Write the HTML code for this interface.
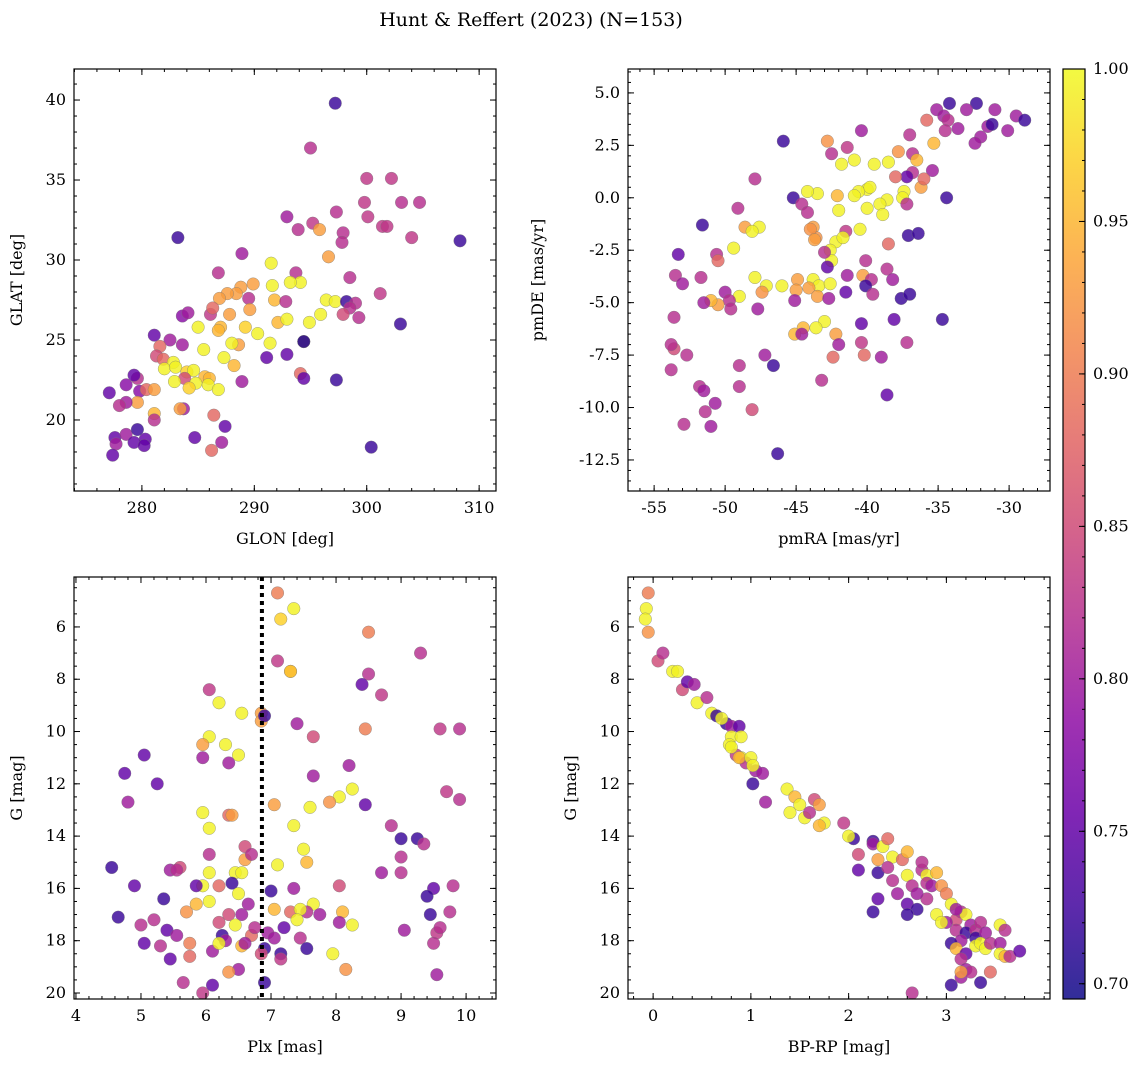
<!DOCTYPE html>
<html><head><meta charset="utf-8">
<style>
html,body{margin:0;padding:0;background:#fff;}
svg{display:block;font-family:"DejaVu Serif","Liberation Serif",serif;}
</style></head>
<body>
<svg id="chart" width="1148" height="1068" viewBox="0 0 1148 1068" xmlns="http://www.w3.org/2000/svg">
<text x="531" y="26" text-anchor="middle" font-size="19" fill="#000">Hunt &amp; Reffert (2023) (N=153)</text>
</svg>
<script>
// ---- Panel 1: GLON / GLAT ----
const p1_glon=[297.2,295.0,300,302.2,299.8,304.7,303.1,297.3,292.9,300.1,301.4,301.8,295.2,295.8,293.9,297.9,297.8,304.0,308.3,283.2,288.9,296.6,291.5,286.8,293.7,298.5,289.9,294.1,293.2,291.6,288.8,288.4,301.2,287.6,289.5,296.4,297.2,298.2,291.8,286.9,292.8,299.0,298.5,297.9,299.3,295.9,303.0,294.9,292.1,292.9,287.8,283.6,284.1,286.1,286.3,289.6,285.0,287.0,289.2,286.8,290.3,281.1,282.5,291.4,288.6,294.4,294.4,288.0,281.6,283.6,285.5,281.3,292.9,291.1,287.3,288.2,281.9,282.8,282.0,283.0,284.0,284.6,294.1,283.8,285.6,297.3,294.4,288.9,286.0,282.9,284.8,285.9,284.2,286.8,277.1,278.6,279.6,279.3,279.8,280.4,281.1,279.6,278.6,278.0,283.7,283.4,281.1,281.1,286.4,287.4,284.7,287.1,277.6,278.6,280.3,279.6,279.3,280.2,277.7,286.2,300.4,277.4];
const p1_glat=[39.8,37.0,35.1,35.1,33.6,33.6,33.6,33.0,32.7,32.7,32.1,32.1,32.3,31.9,31.9,31.7,31.1,31.4,31.2,31.4,30.4,30.2,29.8,29.2,29.2,28.9,28.5,28.6,28.6,28.4,28.3,27.9,27.9,27.9,27.6,27.5,27.4,27.4,27.5,27.6,27.4,27.3,27.0,26.6,26.4,26.6,26.0,26.1,26.1,26.3,26.6,26.5,26.7,26.6,27.0,26.9,25.8,25.8,25.8,25.6,25.4,25.3,25.0,24.8,24.7,24.9,24.9,24.8,24.6,24.7,24.4,24.0,24.1,23.9,23.9,23.4,23.8,23.6,23.2,23.3,23.0,23.1,22.9,22.6,22.7,22.5,22.6,22.4,22.6,22.4,22.3,22.2,22.0,21.9,21.7,22.2,22.6,22.8,21.8,21.9,21.9,21.1,21.1,20.9,20.7,20.7,20.4,20.0,20.3,19.6,18.9,18.6,18.9,19.1,18.8,19.4,18.6,18.4,18.5,18.1,18.3,17.8];
const p1_prob=[.72,.82,.83,.83,.83,.82,.82,.82,.80,.83,.83,.83,.83,.93,.82,.82,.82,.83,.72,.72,.80,.93,.995,.82,.82,.82,.93,.995,.995,.995,.93,.93,.83,.93,.82,.995,.995,.72,.95,.93,.82,.82,.82,.85,.82,.995,.72,.995,.95,.995,.93,.78,.80,.83,.88,.93,.995,.95,.97,.95,.995,.75,.80,.995,.93,.88,.70,.995,.88,.80,.995,.85,.75,.75,.995,.95,.88,.995,.995,.995,.97,.995,.88,.85,.95,.72,.75,.80,.95,.995,.995,.995,.97,.995,.75,.78,.82,.75,.78,.88,.93,.93,.80,.82,.80,.93,.95,.82,.88,.75,.75,.80,.75,.80,.75,.72,.75,.75,.80,.88,.72,.75];
// ---- Panel 2: pmRA / pmDE ----
const p2_pmra=[-34.2,-32.3,-31.0,-29.5,-28.9,-33.0,-35.1,-34.6,-34.3,-34.5,-33.6,-31.5,-31.2,-30.1,-32.0,-32.4,-35.8,-35.3,-37.0,-36.8,-37.8,-38.5,-39.5,-36.8,-36.5,-35.4,-37.2,-38.0,-36.2,-37.4,-36.0,-37.5,-34.4,-37.2,-38.6,-40.0,-40.6,-39.8,-40.9,-39.1,-40.0,-42.1,-43.5,-42.0,-38.9,-40.5,-41.5,-38.5,-37.1,-36.4,-40.9,-41.8,-41.4,-42.5,-42.8,-40.4,-44.2,-45.2,-44.6,-44.2,-43.8,-43.6,-44.0,-45.9,-42.2,-41.7,-42.6,-42.5,-43.0,-40.1,-38.6,-38.2,-42.8,-40.3,-41.4,-39.7,-43.8,-44.9,-43.4,-42.6,-44.1,-45.0,-46.0,-47.1,-47.4,-47.9,-49.0,-50.0,-49.7,-51.7,-50.5,-49.6,-45.1,-43.5,-42.7,-41.5,-40.1,-39.6,-37.6,-37.0,-38.1,-34.7,-37.2,-40.4,-42.2,-43.0,-43.6,-44.5,-45.1,-44.6,-47.7,-42.0,-42.4,-40.4,-40.2,-39.0,-46.6,-47.2,-49.0,-48.1,-49.0,-43.2,-38.6,-46.3,-51.4,-50.7,-51.8,-51.5,-52.9,-51.0,-53.8,-53.6,-53.8,-52.7,-53.6,-53.5,-53.0,-53.3,-51.6,-50.6,-49.1,-47.9,-48.6,-49.4,-47.6,-48.1,-50.5,-51.0,-51.5,-43.7];
const p2_pmde=[4.5,4.5,4.2,3.9,3.7,4.2,4.2,3.9,3.7,3.2,3.3,3.4,3.5,3.2,2.9,2.6,3.7,2.6,3.0,2.1,2.2,1.7,1.6,1.2,1.8,1.3,1.0,1.0,0.5,0.3,0.9,0.0,0.0,-0.3,-0.1,0.4,0.3,0.5,0.1,-0.3,-0.5,0.1,0.2,-0.6,-0.8,-1.5,-1.6,-2.2,-1.8,-1.7,1.8,1.6,2.4,2.1,2.7,3.2,0.3,0.0,-0.3,-0.7,-1.4,-1.9,-1.5,2.7,-2.1,-1.9,-2.5,-3.0,-2.6,-3.0,-3.4,-3.9,-3.3,-3.7,-3.7,-3.9,-3.9,-3.9,-4.2,-4.1,-4.3,-4.4,-4.2,-4.2,-4.5,-3.8,-4.7,-4.5,-4.9,-3.8,-5.1,-5.3,-4.9,-4.7,-4.8,-4.5,-4.2,-4.6,-4.8,-4.6,-5.8,-5.8,-6.9,-6.0,-6.5,-5.9,-6.2,-6.2,-6.5,-6.5,-5.3,-7.0,-7.6,-6.9,-7.5,-7.6,-8.0,-7.5,-8.0,-10.1,-9.0,-8.7,-9.4,-12.2,-10.2,-9.8,-9.0,-9.2,-10.8,-10.9,-8.2,-7.2,-7.0,-7.5,-5.7,-3.7,-4.1,-2.7,-1.3,-2.7,-0.5,0.9,-1.4,-2.4,-1.4,-1.6,-3.0,-4.9,-5.0,-2.0];
const p2_prob=[.72,.72,.80,.80,.72,.80,.80,.80,.82,.82,.80,.80,.72,.80,.80,.80,.88,.95,.82,.82,.92,.995,.995,.82,.95,.80,.75,.88,.93,.995,.88,.995,.72,.82,.995,.995,.995,.995,.995,.995,.995,.95,.995,.995,.995,.995,.83,.88,.72,.72,.995,.995,.83,.82,.92,.80,.995,.72,.82,.82,.93,.92,.92,.72,.995,.995,.995,.995,.82,.82,.82,.80,.75,.93,.80,.82,.995,.93,.995,.995,.93,.93,.995,.995,.92,.995,.995,.80,.82,.82,.93,.82,.80,.93,.80,.75,.72,.82,.72,.72,.75,.72,.82,.75,.93,.995,.995,.95,.95,.80,.80,.80,.88,.83,.88,.80,.72,.80,.82,.85,.82,.82,.75,.72,.82,.80,.82,.80,.82,.80,.82,.85,.82,.82,.82,.82,.80,.75,.72,.82,.82,.82,.93,.995,.995,.995,.88,.95,.80,.93];
// ---- Panel 3: Plx / G ----
const p3_plx=[7.1,7.15,7.35,8.5,9.3,7.1,7.3,7.3,8.5,8.4,6.05,8.7,6.2,6.55,6.85,6.85,6.9,7.4,8.45,9.6,9.9,6.05,5.95,6.3,7.65,5.95,6.5,5.05,6.35,8.2,4.75,7.65,5.25,8.25,8.05,9.7,9.9,4.8,7.05,7.9,8.45,7.6,5.95,6.35,6.4,8.85,7.35,6.05,9.0,9.25,9.35,6.6,7.5,7.1,7.55,6.6,6.05,6.7,9.0,8.7,9.0,4.55,5.6,5.45,6.45,6.55,6.05,5.95,6.2,6.4,7.0,7.35,8.05,9.5,9.8,9.4,4.9,6.5,5.85,5.35,6.05,5.7,5.85,6.65,7.65,7.55,7.05,7.3,7.45,7.75,8.1,8.05,8.25,7.4,6.2,6.35,6.55,6.45,6.7,6.75,6.95,7.2,7.45,7.55,7.05,4.65,5.2,5.4,5.55,5.0,5.3,5.05,5.45,5.75,6.25,6.3,6.55,6.1,6.2,6.6,6.9,6.85,7.15,7.15,7.95,8.15,6.5,6.35,5.65,5.95,6.1,6.9,9.05,9.55,9.6,9.5,9.75,9.45,9.55,5.75,5.55];
const p3_g=[4.7,5.7,5.3,6.2,7.0,7.3,7.7,7.7,7.8,8.2,8.4,8.6,8.9,9.3,9.3,9.6,9.4,9.7,9.9,9.9,9.9,10.2,10.5,10.5,10.2,11.0,10.9,10.9,11.2,11.3,11.6,11.7,12.0,12.2,12.5,12.3,12.6,12.7,12.8,12.7,12.8,12.9,13.1,13.2,13.2,13.6,13.6,13.7,14.1,14.1,14.3,14.4,14.5,15.1,15.0,14.9,14.7,14.7,14.8,15.4,15.4,15.2,15.2,15.3,15.4,15.4,15.4,15.9,15.9,15.8,16.1,16.0,15.9,16.0,15.9,16.3,15.9,16.2,15.9,16.4,16.5,16.9,16.6,16.6,16.6,16.9,16.8,16.9,16.8,17.0,16.9,17.3,17.4,17.2,17.3,17.0,17.0,17.4,17.8,17.5,17.7,17.5,17.9,18.3,17.9,17.1,17.2,17.6,17.8,17.4,18.2,18.1,18.7,18.1,17.8,18.0,18.2,18.4,18.1,18.1,18.3,18.5,18.5,18.7,18.5,19.1,19.1,19.2,19.6,20.0,19.7,19.6,17.6,17.7,17.5,18.1,16.9,17.0,19.3,18.6,15.3];
const p3_prob=[.90,.97,.995,.90,.82,.83,.995,.95,.82,.75,.83,.83,.995,.995,.93,.93,.72,.80,.90,.83,.82,.995,.93,.995,.85,.80,.995,.75,.80,.80,.75,.80,.75,.995,.995,.83,.82,.80,.93,.92,.75,.995,.995,.88,.93,.82,.995,.995,.72,.72,.82,.85,.995,.995,.95,.93,.82,.82,.82,.80,.82,.72,.85,.80,.995,.995,.995,.995,.88,.72,.72,.80,.85,.75,.82,.72,.75,.995,.75,.72,.995,.92,.95,.80,.995,.82,.95,.88,.995,.80,.95,.80,.995,.995,.85,.85,.80,.995,.88,.82,.80,.75,.82,.72,.80,.72,.82,.75,.80,.82,.82,.75,.75,.90,.72,.80,.95,.80,.995,.80,.72,.85,.72,.83,.995,.92,.80,.92,.82,.83,.75,.72,.80,.83,.82,.82,.82,.72,.80,.88,.82];
// ---- Panel 4: BP-RP / G ----
const p4_bprp=[-0.05,-0.07,-0.08,-0.05,0.05,0.1,0.2,0.25,0.3,0.35,0.42,0.45,0.55,0.6,0.65,0.75,0.8,0.88,0.8,0.78,0.9,0.85,0.9,0.95,0.88,1.0,0.8,1.05,1.12,1.02,1.15,1.37,1.45,1.4,1.5,1.55,1.65,1.6,1.7,1.75,1.7,1.95,2.05,2.0,2.25,2.1,2.3,2.25,2.35,2.4,2.45,2.1,2.3,2.4,2.45,2.55,2.6,2.75,2.8,2.75,2.9,2.65,2.8,2.85,2.95,3.0,2.3,2.5,2.6,2.8,2.7,3.05,2.9,3.1,3.15,3.2,3.0,3.1,3.25,3.2,3.3,3.35,3.3,3.4,3.15,3.05,3.1,3.2,3.3,3.35,3.4,3.45,3.55,3.6,3.55,3.55,3.6,3.65,3.75,3.15,3.2,3.15,3.25,3.45,3.35,3.05,2.25,2.6,2.65,3.15,2.95,2.6,3.1,2.7,1.02,0.7];
const p4_g=[4.7,5.3,5.7,6.2,7.3,7.0,7.7,7.7,8.4,8.1,8.2,8.9,8.7,9.3,9.4,9.7,9.8,9.8,10.2,10.5,10.2,10.9,11.0,11.2,11.0,11.0,10.6,11.5,11.6,12.0,12.7,12.2,12.5,13.1,12.8,13.3,12.6,13.1,12.8,13.5,13.6,13.5,14.1,14.0,14.2,14.7,14.9,14.3,14.4,14.1,14.8,15.3,15.4,15.2,15.7,14.9,15.5,15.3,15.5,15.0,15.4,15.9,15.8,15.9,15.9,16.2,16.4,16.2,16.6,16.4,16.8,16.6,17.0,17.2,16.9,17.0,17.3,17.6,17.4,17.7,17.6,17.3,17.9,17.7,18.0,18.1,18.3,18.5,18.2,18.1,18.3,18.1,17.4,17.6,18.1,18.5,18.6,18.6,18.4,18.7,19.1,19.4,19.2,19.2,19.6,19.7,16.9,17.0,20.0,19.2,17.3,14.6,16.8,16.2,11.3,9.5];
const p4_prob=[.90,.995,.995,.92,.85,.82,.995,.995,.85,.75,.80,.995,.82,.995,.72,.72,.80,.75,.995,.995,.995,.83,.995,.82,.95,.995,.995,.80,.80,.72,.80,.995,.95,.995,.995,.995,.85,.82,.93,.995,.95,.83,.72,.995,.72,.85,.93,.80,.995,.88,.995,.75,.72,.82,.82,.88,.995,.82,.995,.82,.95,.82,.82,.80,.92,.90,.75,.80,.75,.82,.72,.995,.995,.85,.82,.995,.80,.82,.80,.72,.82,.82,.72,.80,.80,.72,.95,.75,.995,.995,.995,.82,.995,.82,.80,.995,.95,.82,.75,.82,.80,.80,.82,.88,.72,.72,.72,.72,.82,.93,.995,.95,.80,.80,.995,.995];
// ---- Ticks ----
const p1_xticks=[280,290,300,310], p1_yticks=[20,25,30,35,40];
const p2_xticks=[-55,-50,-45,-40,-35,-30], p2_yticks=[5.0,2.5,0.0,-2.5,-5.0,-7.5,-10.0,-12.5];
const p3_xticks=[4,5,6,7,8,9,10], g_ticks=[6,8,10,12,14,16,18,20];
const p4_xticks=[0,1,2,3];
const cb_ticks=[0.70,0.75,0.80,0.85,0.90,0.95,1.00];
const plx_line=6.86;

const NS="http://www.w3.org/2000/svg";
const svg=document.getElementById('chart');
function mk(tag,attrs,parent){const e=document.createElementNS(NS,tag);for(const k in attrs)e.setAttribute(k,attrs[k]);(parent||svg).appendChild(e);return e;}
const stops=["#0d0887","#41049d","#6a00a8","#8f0da4","#b12a90","#cc4778","#e16462","#f2844b","#fca636","#fcce25","#f0f921"];
function hex(h){return [1,3,5].map(i=>parseInt(h.substr(i,2),16));}
const CMIN=0.695,CMAX=1.0;
function plasma(t){t=Math.max(0,Math.min(1,t));const f=t*10,i=Math.min(9,Math.floor(f)),r=f-i;const a=hex(stops[i]),b=hex(stops[i+1]);return 'rgb('+a.map((v,k)=>Math.round(v+(b[k]-v)*r)).join(',')+')';}
function cmap(c){return plasma((c-CMIN)/(CMAX-CMIN));}

function panel(o){
  const g=mk('g',{});
  
  
  const X=v=>o.x0+(v-o.xmin)/(o.xmax-o.xmin)*o.w;
  const Y=v=>o.yinv? o.y0+(v-o.ymin)/(o.ymax-o.ymin)*o.h : o.y0+o.h-(v-o.ymin)/(o.ymax-o.ymin)*o.h;
  for(let i=0;i<o.xs.length;i++){
    const c=mk('circle',{cx:X(o.xs[i]),cy:Y(o.ys[i]),r:6.3,fill:cmap(o.cs[i]),'fill-opacity':0.82,stroke:'#777','stroke-width':0.5,'stroke-opacity':0.7},g);
    
    
  }
  if(o.vline!==undefined){
    const l=mk('line',{x1:X(o.vline),x2:X(o.vline),y1:o.y0,y2:o.y0+o.h,stroke:'#000','stroke-width':4,'stroke-dasharray':'4,4'},g);
    
    
  }
  const fr=mk('rect',{x:o.x0,y:o.y0,width:o.w,height:o.h,fill:'none',stroke:'#000','stroke-width':1.2},g);
  
  
  const lo=Math.min(o.xmin,o.xmax),hi=Math.max(o.xmin,o.xmax);
  for(let v=Math.ceil(lo/o.xminor)*o.xminor;v<=hi;v+=o.xminor){const x=X(v);mk('line',{x1:x,x2:x,y1:o.y0+o.h,y2:o.y0+o.h-3,stroke:'#000'},g);mk('line',{x1:x,x2:x,y1:o.y0,y2:o.y0+3,stroke:'#000'},g);}
  const ylo=Math.min(o.ymin,o.ymax),yhi=Math.max(o.ymin,o.ymax);
  for(let v=Math.ceil(ylo/o.yminor)*o.yminor;v<=yhi;v+=o.yminor){const y=Y(v);mk('line',{x1:o.x0,x2:o.x0+3,y1:y,y2:y,stroke:'#000'},g);mk('line',{x1:o.x0+o.w,x2:o.x0+o.w-3,y1:y,y2:y,stroke:'#000'},g);}
  o.xt.forEach(v=>{const x=X(v);mk('line',{x1:x,x2:x,y1:o.y0+o.h,y2:o.y0+o.h-6,stroke:'#000'},g);mk('line',{x1:x,x2:x,y1:o.y0,y2:o.y0+6,stroke:'#000'},g);
    const t=mk('text',{x:x,y:o.y0+o.h+22,'text-anchor':'middle','font-size':16},g);t.textContent=o.xfmt(v);
    });
  o.yt.forEach(v=>{const y=Y(v);mk('line',{x1:o.x0,x2:o.x0+6,y1:y,y2:y,stroke:'#000'},g);mk('line',{x1:o.x0+o.w,x2:o.x0+o.w-6,y1:y,y2:y,stroke:'#000'},g);
    const t=mk('text',{x:o.x0-8,y:y+5,'text-anchor':'end','font-size':16},g);t.textContent=o.yfmt(v);
    });
  const xl=mk('text',{x:o.x0+o.w/2,y:o.y0+o.h+53,'text-anchor':'middle','font-size':16},g);xl.textContent=o.xlab;
  
  const yl=mk('text',{x:o.ylx,y:o.y0+o.h/2,'text-anchor':'middle','font-size':16,transform:`rotate(-90 ${o.ylx} ${o.y0+o.h/2})`},g);yl.textContent=o.ylab;
  
}
const i0=v=>String(v), f1=v=>v.toFixed(1);
panel({name:'glon-glat-panel',x0:74,y0:69,w:422,h:422,xmin:273.96,xmax:311.5,ymin:15.56,ymax:41.94,xs:p1_glon,ys:p1_glat,cs:p1_prob,xt:p1_xticks,yt:p1_yticks,xminor:2,yminor:1,xfmt:i0,yfmt:i0,xlab:'GLON [deg]',ylab:'GLAT [deg]',ylx:22});
panel({name:'proper-motion-panel',x0:628,y0:69,w:422,h:422,xmin:-56.84,xmax:-27.12,ymin:-13.98,ymax:6.14,xs:p2_pmra,ys:p2_pmde,cs:p2_prob,xt:p2_xticks,yt:p2_yticks,xminor:1,yminor:0.5,xfmt:i0,yfmt:f1,xlab:'pmRA [mas/yr]',ylab:'pmDE [mas/yr]',ylx:543});
panel({name:'parallax-magnitude-panel',x0:74,y0:577,w:422,h:422,xmin:3.97,xmax:10.46,ymin:4.09,ymax:20.23,yinv:true,xs:p3_plx,ys:p3_g,cs:p3_prob,xt:p3_xticks,yt:g_ticks,xminor:0.2,yminor:0.5,xfmt:i0,yfmt:i0,xlab:'Plx [mas]',ylab:'G [mag]',ylx:22,vline:plx_line});
panel({name:'color-magnitude-panel',x0:628,y0:577,w:422,h:422,xmin:-0.257,xmax:4.06,ymin:4.09,ymax:20.23,yinv:true,xs:p4_bprp,ys:p4_g,cs:p4_prob,xt:p4_xticks,yt:g_ticks,xminor:0.2,yminor:0.5,xfmt:i0,yfmt:i0,xlab:'BP-RP [mag]',ylab:'G [mag]',ylx:576});

const cb=mk('g',{});


const defs=mk('defs',{},cb);
const lg=mk('linearGradient',{id:'cbg',x1:0,y1:1,x2:0,y2:0},defs);
stops.forEach((s,i)=>mk('stop',{offset:i/10,'stop-color':s,'stop-opacity':0.85},lg));
const cbx=1063,cby=69,cbw=22,cbh=930;
mk('rect',{x:cbx,y:cby,width:cbw,height:cbh,fill:'url(#cbg)',stroke:'#000','stroke-width':1.2},cb);
const CY=v=>cby+cbh-(v-CMIN)/(CMAX-CMIN)*cbh;
for(let v=0.70;v<=1.0001;v+=0.01){const y=CY(v);mk('line',{x1:cbx+cbw,x2:cbx+cbw-3,y1:y,y2:y,stroke:'#000'},cb);}
cb_ticks.forEach(v=>{const y=CY(v);mk('line',{x1:cbx+cbw,x2:cbx+cbw-6,y1:y,y2:y,stroke:'#000'},cb);
  const t=mk('text',{x:cbx+cbw+8,y:y+5,'font-size':16},cb);t.textContent=v.toFixed(2);
  });
</script>
</body></html>
